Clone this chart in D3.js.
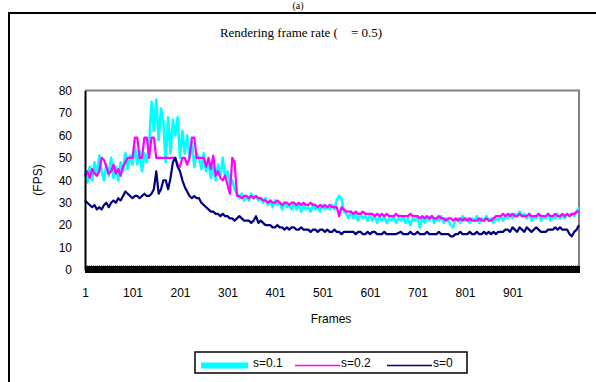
<!DOCTYPE html>
<html><head><meta charset="utf-8">
<script src="https://d3js.org/d3.v7.min.js"></script>
<style>body{margin:0;background:#fff}svg{display:block}</style>
</head><body>
<script>
// frames sampled every 5 frames (1, 6, 11, ... 1041)
const frames = d3.range(1, 1042, 5);
const xTicks = [1, 101, 201, 301, 401, 501, 601, 701, 801, 901];
const yTicks = [0, 10, 20, 30, 40, 50, 60, 70, 80];
const seriesNames = ["s=0.1", "s=0.2", "s=0"];
const s01 = [44,39,46,40,48,42,51,44,40,47,42,50,41,46,40,48,44,52,45,51,47,55,47,53,44,52,48,56,75,62,
76,58,72,66,48,68,52,67,60,68,50,62,52,60,50,57,46,52,50,45,52,44,48,41,46,40,47,42,50,41,
44,38,40,36,34,32,34,31,33,31,34,32,33,31,32,30,32,29,31,28,31,29,30,27,30,28,29,27,30,27,
29,26,29,27,28,26,29,27,28,26,29,27,28,27,29,27,31,33,32,26,25,23,26,23,25,22,25,23,24,22,
25,22,24,21,24,22,24,21,23,22,24,21,23,22,24,21,23,20,23,22,24,19,23,21,23,22,24,21,23,22,
24,21,23,22,20,19,22,23,21,24,22,23,21,23,22,24,21,23,22,24,22,23,21,23,22,24,22,24,23,25,
23,25,24,26,24,25,23,25,22,24,23,25,22,24,23,25,22,24,23,25,23,24,23,25,24,25,24,26,28];
const s02 = [42,44,41,45,43,42,44,50,49,46,43,44,47,43,45,42,46,48,50,50,50,59,59,50,50,59,59,50,59,59,
50,50,50,50,50,50,50,50,50,47,46,50,50,47,50,59,59,50,50,50,50,46,50,45,51,42,44,41,40,42,
38,34,50,48,33,33,32,33,33,32,33,32,33,32,32,31,31,30,31,30,30,31,30,29,30,30,29,30,30,29,
30,29,30,29,29,30,29,29,28,29,28,29,28,29,28,28,28,24,28,27,26,26,26,25,26,25,25,26,25,25,
25,25,24,25,24,25,24,25,24,24,24,25,24,24,24,24,24,25,24,24,24,23,24,23,24,23,24,23,23,24,
23,23,22,23,23,22,23,22,23,22,23,22,23,22,22,22,23,22,22,23,22,22,23,24,24,24,25,24,25,24,
25,24,24,25,24,24,24,25,24,24,24,25,24,24,24,25,24,24,25,24,24,25,24,25,24,25,25,26,26];
const s0 = [31,30,29,28,29,27,28,27,29,30,28,30,31,30,32,31,33,35,34,33,32,33,33,32,33,34,33,33,34,36,
44,34,36,40,40,36,41,48,50,46,44,40,37,35,33,32,33,32,32,30,29,28,27,26,26,25,25,24,25,24,
24,23,23,22,23,24,23,22,22,22,21,22,24,21,22,21,20,20,20,19,19,20,19,19,18,19,18,19,19,18,
18,19,18,18,18,17,18,18,17,18,18,17,18,17,17,18,17,17,16,17,17,17,17,17,16,17,17,16,16,17,
16,17,17,16,16,16,17,16,16,16,16,16,16.5,17,16,16,16,17,16,16,17,16,16,16,17,16,16,16,16,17,
16,16,16,16,15,15,16,16,17,16,16,16,17,16,16,17,16,16,17,16,17,16,17,16,17,17,17,18,18,17,
19,18,17,19,18,17,19,18,17,18,19,18,17,17,17,18,18,18,19,18,19,18,18,18,16,15,17,18,20];
const colors = ["#00FFFF", "#FF00FF", "#000080"];
const widths = [2.6, 2.2, 2.2];

const W = 596, H = 382;
const svg = d3.select("body").append("svg").attr("width", W).attr("height", H);
const sans = "'Liberation Sans', Arial, sans-serif";
const serif = "'Liberation Serif', 'Times New Roman', serif";

// outer frame
svg.append("rect").attr("x", 9).attr("y", 13).attr("width", 700).attr("height", 500)
  .attr("fill", "none").attr("stroke", "#000").attr("stroke-width", 2);
svg.append("text").attr("x", 298).attr("y", 9).attr("text-anchor", "middle")
  .attr("font-family", serif).attr("font-size", 10).text("(a)");
svg.append("text").attr("x", 301).attr("y", 37).attr("text-anchor", "middle")
  .attr("font-family", serif).attr("font-size", 13).style("white-space", "pre")
  .text("Rendering frame rate (\u00a0\u00a0\u00a0\u00a0= 0.5)");

const x = d3.scaleLinear().domain([1, 1041]).range([85, 579]);
const y = d3.scaleLinear().domain([0, 80]).range([270, 90.5]);

// plot border (top and right gray)
svg.append("line").attr("x1", 85).attr("x2", 580).attr("y1", y(80)).attr("y2", y(80))
  .attr("stroke", "#808080").attr("stroke-width", 2);
svg.append("line").attr("x1", 579).attr("x2", 579).attr("y1", y(80)).attr("y2", 270)
  .attr("stroke", "#808080").attr("stroke-width", 2);
svg.append("line").attr("x1", 85).attr("x2", 579).attr("y1", 265.5).attr("y2", 265.5)
  .attr("stroke", "#999").attr("stroke-width", 1).attr("stroke-dasharray", "1,1");

// lines
const line = d3.line().x((d, i) => x(frames[i])).y(d => y(d));
[s01, s02, s0].forEach((s, k) => {
  svg.append("path").datum(s).attr("d", line).attr("fill", "none")
    .attr("stroke", colors[k]).attr("stroke-width", widths[k]).attr("stroke-linejoin", "round");
});

// x axis band of per-frame tick marks
const band = svg.append("g").attr("transform", "translate(0,266)")
  .call(d3.axisBottom(x).tickValues(d3.range(1, 1042)).tickSize(7).tickFormat(""));
band.select(".domain").remove();
band.selectAll("line").attr("stroke", "#000").attr("stroke-width", 1);

// x tick labels
const xa = svg.append("g").attr("transform", "translate(0,270)")
  .call(d3.axisBottom(x).tickValues(xTicks).tickSize(0).tickPadding(18).tickFormat(d3.format("d")));
xa.select(".domain").remove();
xa.selectAll("text").attr("font-family", sans).attr("font-size", 12).attr("fill", "#000");

// y axis
const ya = svg.append("g").attr("transform", "translate(85,0)")
  .call(d3.axisLeft(y).tickValues(yTicks).tickSize(0).tickPadding(13));
ya.select(".domain").attr("stroke", "#000").attr("stroke-width", 2);
ya.selectAll("text").attr("font-family", sans).attr("font-size", 12).attr("fill", "#000");

svg.append("text").attr("transform", "translate(42,180) rotate(-90)").attr("text-anchor", "middle")
  .attr("font-family", sans).attr("font-size", 12).text("(FPS)");
svg.append("text").attr("x", 331).attr("y", 323).attr("text-anchor", "middle")
  .attr("font-family", sans).attr("font-size", 12).text("Frames");

// legend
svg.append("rect").attr("x", 195).attr("y", 352).attr("width", 272).attr("height", 21)
  .attr("fill", "#fff").attr("stroke", "#000").attr("stroke-width", 1.5);
const lx = [201, 295, 387], tx = [253, 341, 433], lw = [6, 1.5, 1.5];
seriesNames.forEach((n, k) => {
  svg.append("line").attr("x1", lx[k]).attr("x2", lx[k] + (k === 0 ? 47 : 45))
    .attr("y1", 365.5).attr("y2", 365.5).attr("stroke", colors[k]).attr("stroke-width", lw[k]);
  svg.append("text").attr("x", tx[k]).attr("y", 367).attr("font-family", sans)
    .attr("font-size", 12).text(n);
});
</script>
</body></html>
